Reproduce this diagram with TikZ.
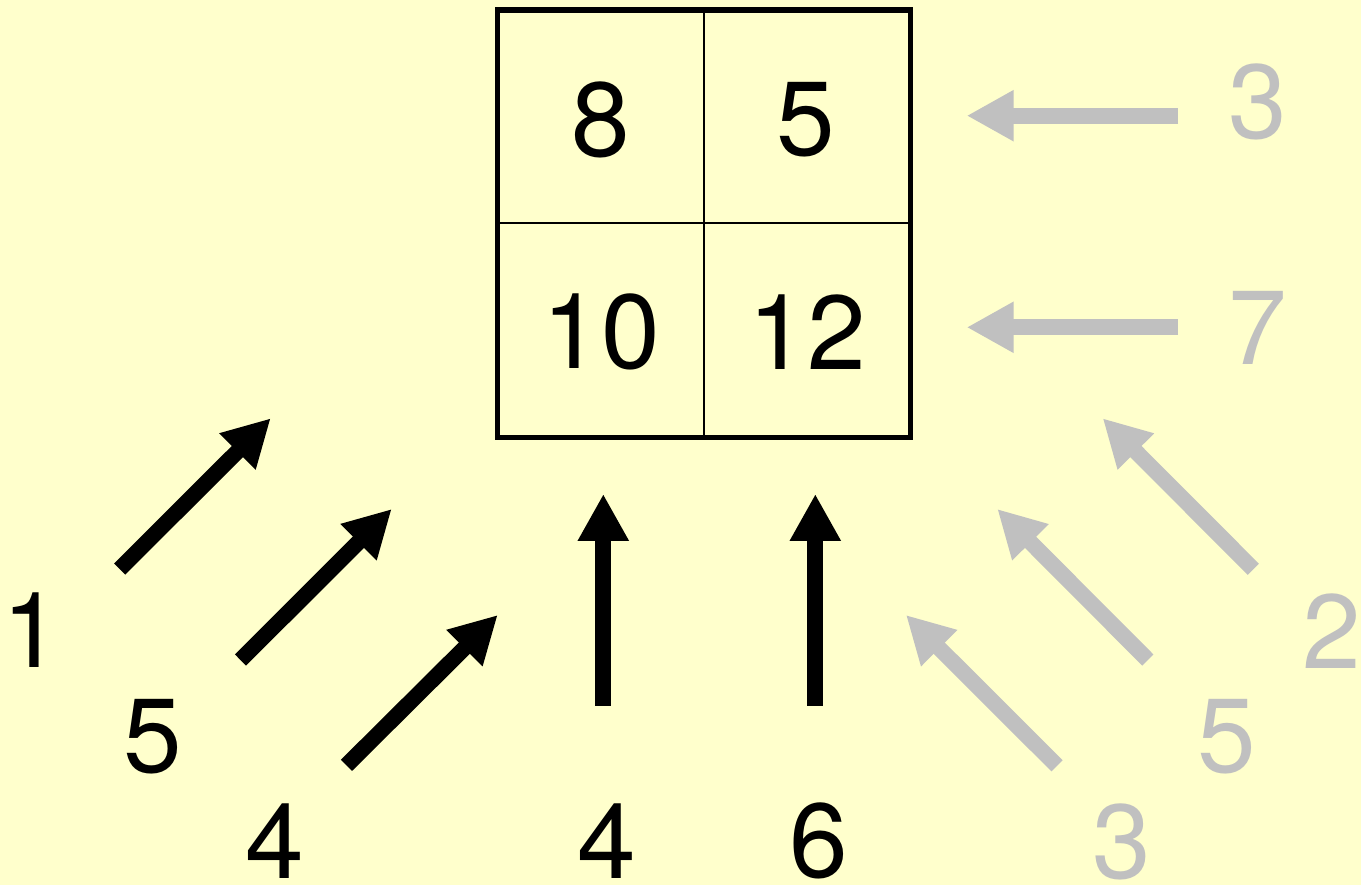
\documentclass[tikz,border=0pt]{standalone}
\usepackage{fontspec}
\setmainfont{TeX Gyre Heros}
\usetikzlibrary{arrows.meta}
\definecolor{paper}{HTML}{FFFFCC}
\definecolor{shade}{HTML}{C0C0C0}

\begin{document}
\begin{tikzpicture}[
  x=0.02cm, y=-0.02cm,
  every node/.style={font=\fontsize{60}{72}\selectfont, inner sep=0pt},
  num/.style={text=black},
  dim/.style={text=shade},
  arr/.style={-{Triangle[length=0.94cm, width=0.96cm]}, line width=9pt},
  darr/.style={arr, draw=black},
  garr/.style={arr, draw=shade}
]

\useasboundingbox (0,0) rectangle (1361,885);
\fill[paper] (0,0) rectangle (1361,885);

%% ---- GRID -----------------------------------------------------
\coordinate (nw) at (497.5, 10);
\coordinate (se) at (910.5, 437);
\draw[line width=1.5pt] (704,10) -- (704,437);
\draw[line width=1.5pt] (497.5,223) -- (910.5,223);
\draw[line width=2.85pt] (nw) rectangle (se);

\node[num] (c11) at (601, 120) {8};
\node[num] (c12) at (806, 120) {5};
\node[num] (c21) at (601, 332) {10};
\node[num] (c22) at (807, 332) {12};

%% ---- BLACK ARROWS ---------------------------------------------
\coordinate (b1s) at (119.7, 569);  \coordinate (b1e) at (270.7, 418.3);
\coordinate (b2s) at (240.5, 660);  \coordinate (b2e) at (391.7, 509);
\coordinate (b3s) at (346.5, 765.3); \coordinate (b3e) at (497.7, 615);
\coordinate (b4s) at (603.3, 705.7); \coordinate (b4e) at (603.3, 494);
\coordinate (b5s) at (815.3, 705.7); \coordinate (b5e) at (815.3, 494);

\draw[darr] (b1s) -- (b1e);
\draw[darr] (b2s) -- (b2e);
\draw[darr] (b3s) -- (b3e);
\draw[darr] (b4s) -- (b4e);
\draw[darr] (b5s) -- (b5e);

\node[num] (l1) at (31.5, 630.5) {1};
\node[num] (l2) at (152.5, 737)  {5};
\node[num] (l3) at (274.5, 841.5) {4};
\node[num] (l4) at (606.3, 841)  {4};
\node[num] (l5) at (818.7, 841)  {6};

%% ---- GREY ARROWS ----------------------------------------------
\coordinate (g1s) at (1178, 115.7);  \coordinate (g1e) at (966.7, 115.7);
\coordinate (g2s) at (1178, 327.3);  \coordinate (g2e) at (966.7, 327.3);
\coordinate (g3s) at (1253.3, 569.3); \coordinate (g3e) at (1102.7, 418.3);
\coordinate (g4s) at (1147.8, 660);  \coordinate (g4e) at (997.3, 509);
\coordinate (g5s) at (1057, 765.8);  \coordinate (g5e) at (906, 615);

\draw[garr] (g1s) -- (g1e);
\draw[garr] (g2s) -- (g2e);
\draw[garr] (g3s) -- (g3e);
\draw[garr] (g4s) -- (g4e);
\draw[garr] (g5s) -- (g5e);

\node[dim] (r1) at (1258, 102)  {3};
\node[dim] (r2) at (1258, 328)  {7};
\node[dim] (r3) at (1332, 631)  {2};
\node[dim] (r4) at (1227, 737)  {5};
\node[dim] (r5) at (1121.7, 842) {3};

\end{tikzpicture}
\end{document}
